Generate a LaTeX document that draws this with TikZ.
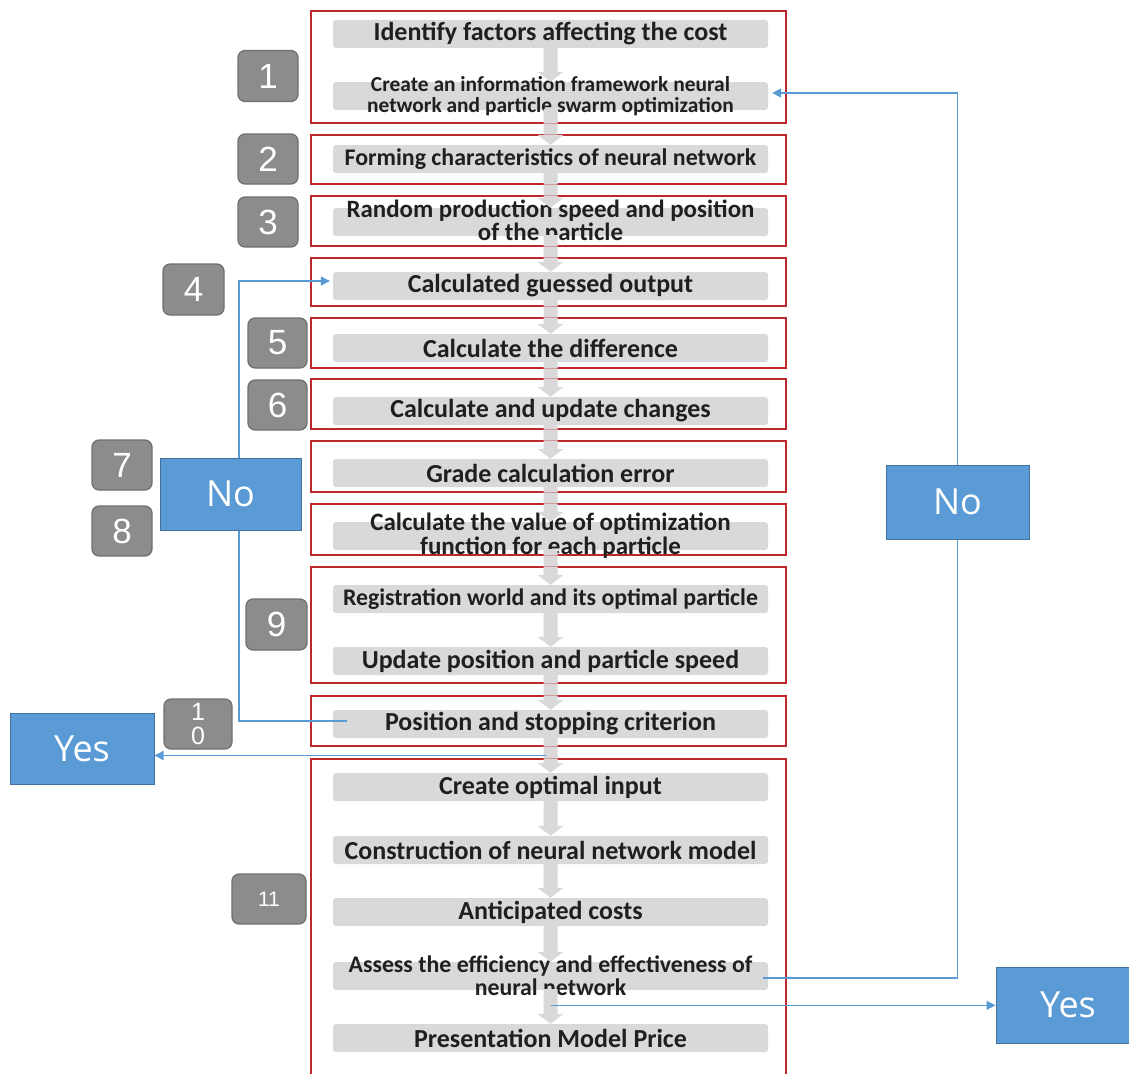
\documentclass[tikz,border=0pt]{standalone}
\usepackage{fontspec}
\setmainfont{Carlito}
\newfontfamily\numfont{Liberation Sans}
\newfontfamily\labfont{Open Sans}
\usetikzlibrary{arrows.meta,calc}

\definecolor{barfill}{HTML}{D9D9D9}
\definecolor{bartext}{HTML}{1F1F1F}
\definecolor{frame}{HTML}{C0272D}
\definecolor{badge}{HTML}{8C8C8C}
\definecolor{badgeline}{HTML}{6F6F6F}
\definecolor{blueface}{HTML}{5B9BD5}
\definecolor{blueline}{HTML}{41719C}
\definecolor{flowblue}{HTML}{5B9BD5}

\pgfdeclarelayer{front}
\pgfsetlayers{main,front}

% wide grey block arrow from the bottom of one bar to the top of the next
\newcommand\flowstep[2]{%
  \fill[barfill] let \p1=(#1.south), \p2=(#2.north) in
    (\x1-7pt,\y1+1pt) -- (\x1-7pt,\y2+10pt) -- (\x1-13pt,\y2+10pt) --
    (\x1,\y2) -- (\x1+13pt,\y2+10pt) -- (\x1+7pt,\y2+10pt) --
    (\x1+7pt,\y1+1pt) -- cycle;}

\begin{document}
\begin{tikzpicture}[x=1pt,y=-1pt,
  stage/.style={draw=frame, line width=1.4pt, minimum width=475pt, inner sep=0pt},
  bar/.style={fill=barfill, rounded corners=3pt, minimum width=435pt, minimum height=28pt, inner sep=0pt},
  bartxt/.style={text=bartext, font=\bfseries\fontsize{26}{28}\selectfont, align=center, inner sep=0pt},
  badgebox/.style={fill=badge, draw=badgeline, line width=1.2pt, rounded corners=7pt, text=white,
    font=\numfont\fontsize{35}{36}\selectfont, align=center, inner sep=0pt},
  answer/.style={fill=blueface, draw=blueline, line width=1pt, text=white,
    font=\labfont\fontsize{36}{38}\selectfont, inner sep=0pt},
  feedback/.style={draw=flowblue, line width=1.5pt},
  feedtip/.style={feedback, -{Triangle[length=9pt,width=9pt]}},
]
\useasboundingbox (0,0) rectangle (1129,1073);
\fill[white] (0,0) rectangle (1129,1073);

% answer boxes sit above every line
\begin{pgfonlayer}{front}
\node[answer, minimum width=141pt, minimum height=72pt] (noL) at (230.5,494) {No};
\node[answer, minimum width=143pt, minimum height=74pt] (noR) at (957.5,502) {No};
\node[answer, minimum width=144pt, minimum height=71pt] (yesL) at (82,748.5) {Yes};
\node[answer, minimum width=144pt, minimum height=76pt] (yesR) at (1068,1005) {Yes};
\end{pgfonlayer}

% stage frames
\node[stage, minimum height=112pt] (s1) at (548.5,67) {};
\node[stage, minimum height=49pt] (s2) at (548.5,159.5) {};
\node[stage, minimum height=50pt] (s3) at (548.5,221) {};
\node[stage, minimum height=48pt] (s4) at (548.5,282) {};
\node[stage, minimum height=50pt] (s5) at (548.5,343) {};
\node[stage, minimum height=50pt] (s6) at (548.5,404) {};
\node[stage, minimum height=51pt] (s7) at (548.5,466.5) {};
\node[stage, minimum height=51pt] (s8) at (548.5,529.5) {};
\node[stage, minimum height=116pt] (s9) at (548.5,625) {};
\node[stage, minimum height=50pt] (s10) at (548.5,721) {};
\node[stage, minimum height=326pt] (s11) at (548.5,922) {};

% step bars
\node[bar] (b1) at (550.5,34) {};
\node[bar] (b2) at (550.5,96) {};
\node[bar] (b3) at (550.5,159) {};
\node[bar] (b4) at (550.5,222) {};
\node[bar] (b5) at (550.5,286) {};
\node[bar] (b6) at (550.5,348) {};
\node[bar] (b7) at (550.5,411) {};
\node[bar] (b8) at (550.5,473) {};
\node[bar] (b9) at (550.5,536) {};
\node[bar] (b10) at (550.5,599) {};
\node[bar] (b11) at (550.5,661) {};
\node[bar] (b12) at (550.5,724) {};
\node[bar] (b13) at (550.5,787) {};
\node[bar] (b14) at (550.5,850) {};
\node[bar] (b15) at (550.5,912) {};
\node[bar] (b16) at (550.5,976) {};
\node[bar] (b17) at (550.5,1038) {};

\node[bartxt] (t1) at (b1) {Identify factors affecting the cost};
\node[bartxt, font=\bfseries\fontsize{21.4}{20.5}\selectfont] (t2) at (b2)
  {Create an information framework neural\\network and particle swarm optimization};
\node[bartxt, font=\bfseries\fontsize{23.9}{26}\selectfont] (t3) at (b3) {Forming characteristics of neural network};
\node[bartxt, font=\bfseries\fontsize{24.9}{23.5}\selectfont] (t4) at (b4) {Random production speed and position\\of the particle};
\node[bartxt] (t5) at (b5) {Calculated guessed output};
\node[bartxt] (t6) at (b6) {Calculate the difference};
\node[bartxt] (t7) at (b7) {Calculate and update changes};
\node[bartxt] (t8) at (b8) {Grade calculation error};
\node[bartxt, font=\bfseries\fontsize{25}{24}\selectfont] (t9) at (b9)
  {Calculate the value of optimization\\function for each particle};
\node[bartxt, font=\bfseries\fontsize{23.8}{26}\selectfont] (t10) at (b10) {Registration world and its optimal particle};
\node[bartxt] (t11) at (b11) {Update position and particle speed};
\node[bartxt] (t12) at (b12) {Position and stopping criterion};
\node[bartxt] (t13) at (b13) {Create optimal input};
\node[bartxt] (t14) at (b14) {Construction of neural network model};
\node[bartxt] (t15) at (b15) {Anticipated costs};
\node[bartxt, font=\bfseries\fontsize{23.8}{23}\selectfont] (t16) at (b16)
  {Assess the efficiency and effectiveness of\\neural network};
\node[bartxt] (t17) at (b17) {Presentation Model Price};

% grey flow between consecutive bars
\flowstep{b1}{b2}   \flowstep{b2}{b3}   \flowstep{b3}{b4}   \flowstep{b4}{b5}
\flowstep{b5}{b6}   \flowstep{b6}{b7}   \flowstep{b7}{b8}   \flowstep{b8}{b9}
\flowstep{b9}{b10}  \flowstep{b10}{b11} \flowstep{b11}{b12} \flowstep{b12}{b13}
\flowstep{b13}{b14} \flowstep{b14}{b15} \flowstep{b15}{b16} \flowstep{b16}{b17}

% frames show faintly through the flow arrows
\foreach \s in {s1,s2,s3,s4,s5,s6,s7,s8,s9,s10,s11}
  \draw[frame, line width=1.4pt, draw opacity=.35] (\s.north west) rectangle (\s.south east);

% stage numbers
\node[badgebox, minimum width=60pt, minimum height=51pt] (n1) at (268,76) {1};
\node[badgebox, minimum width=60pt, minimum height=50pt] (n2) at (268,159) {2};
\node[badgebox, minimum width=60pt, minimum height=50pt] (n3) at (268,222) {3};
\node[badgebox, minimum width=61pt, minimum height=51pt] (n4) at (193.5,289.5) {4};
\node[badgebox, minimum width=59pt, minimum height=50pt] (n5) at (277.5,343) {5};
\node[badgebox, minimum width=59pt, minimum height=50pt] (n6) at (277.5,405) {6};
\node[badgebox, minimum width=60pt, minimum height=50pt] (n7) at (122,465) {7};
\node[badgebox, minimum width=60pt, minimum height=50pt] (n8) at (122,531) {8};
\node[badgebox, minimum width=61pt, minimum height=51pt] (n9) at (276.5,624.5) {9};
\node[badgebox, minimum width=68pt, minimum height=50pt,
  font=\numfont\fontsize{25}{24}\selectfont] (n10) at (198,724) {1\\0};
\node[badgebox, minimum width=74pt, minimum height=50pt,
  font=\numfont\fontsize{21}{22}\selectfont] (n11) at (269,899) {11};

% feedback loops
\coordinate (lx) at (239,500);
\coordinate (l5) at ([xshift=-3pt,yshift=5pt]b5.west);
\coordinate (l12) at ([xshift=14pt,yshift=3pt]b12.west);
\draw[feedtip] (l12) -| (l5 -| lx) -- (l5);

\coordinate (r2) at ([xshift=4pt,yshift=3pt]b2.east);
\coordinate (r16) at ([xshift=-5pt,yshift=-2pt]b16.east);
\draw[feedtip] (r16) -| (r2 -| noR.center) -- (r2);

% exits to the answer boxes
\coordinate (ym1) at ($(b12.south)!.5!(b13.north)$);
\draw[feedtip] ([xshift=-5pt]ym1) -- (ym1 -| yesL.east);
\coordinate (ym2) at ($(b16.south)!.45!(b17.north)$);
\draw[feedtip] (ym2) -- (ym2 -| yesR.west);
\end{tikzpicture}
\end{document}
